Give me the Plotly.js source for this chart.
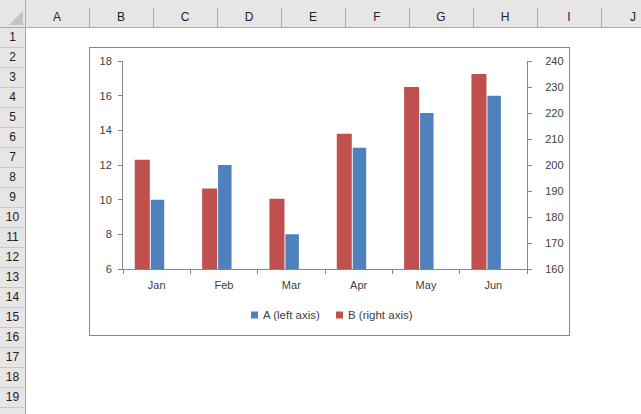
<!DOCTYPE html>
<html>
<head>
<meta charset="utf-8">
<script src="https://cdn.plot.ly/plotly-3.0.1.min.js"></script>
<style>
html,body{margin:0;padding:0;width:641px;height:414px;overflow:hidden;background:#fff;font-family:"Liberation Sans",Arial,sans-serif;}
#sheet{position:absolute;left:0;top:0;width:641px;height:414px;}
.band{position:absolute;background:#e6e6e6;}
.vline{position:absolute;width:1px;background:#ababab;}
.hline{position:absolute;height:1px;background:#ababab;}
.lbl{position:absolute;font-size:12px;color:#222;text-align:center;line-height:20px;height:20px;}
#chartbox{position:absolute;left:89px;top:47px;width:479px;height:287px;border:1px solid #868686;background:#fff;}
#chart{width:479px;height:287px;}
</style>
</head>
<body>
<div id="sheet"></div>
<div id="chartbox"><div id="chart"></div></div>
<script>
// ---- data ----
const months = ['Jan','Feb','Mar','Apr','May','Jun'];
const seriesA = [10, 12, 8, 13, 15, 16];          // left axis
const seriesB = [202, 191, 187, 212, 230, 235];   // right axis
const nameA = 'A (left axis)';
const nameB = 'B (right axis)';
const colLetters = ['A','B','C','D','E','F','G','H','I','J'];
const rowNumbers = [1,2,3,4,5,6,7,8,9,10,11,12,13,14,15,16,17,18,19];

// ---- spreadsheet frame ----
const sheet = document.getElementById('sheet');
function add(cls, css, text){
  const d = document.createElement('div');
  d.className = cls;
  Object.assign(d.style, css);
  if (text !== undefined) d.textContent = text;
  sheet.appendChild(d);
}
add('band', {left:'0px', top:'0px', width:'641px', height:'27px'});
add('band', {left:'0px', top:'0px', width:'25px', height:'414px'});
add('hline', {left:'0px', top:'27px', width:'641px'});
add('vline', {left:'25px', top:'0px', height:'414px'});
const tri = document.createElement('div');
Object.assign(tri.style, {position:'absolute', left:'9px', top:'11px', width:'0', height:'0',
  borderLeft:'14px solid transparent', borderBottom:'14px solid #c4c4c4'});
sheet.appendChild(tri);
colLetters.forEach((c, i) => {
  const x0 = 25 + 64 * i;
  add('vline', {left:(x0 + 64) + 'px', top:'8px', height:'19px'});
  add('lbl', {left:x0 + 'px', top:'7px', width:'64px'}, c);
});
rowNumbers.forEach((r, i) => {
  const y0 = 27 + 20 * i;
  add('hline', {left:'0px', top:(y0 + 20) + 'px', width:'25px', background:'#c8c8c8'});
  add('lbl', {left:'0px', top:y0 + 'px', width:'25px'}, String(r));
});

// ---- chart ----
const axisColor = '#868686';
const colorA = '#4F81BD', colorB = '#C0504D';
const traces = [
  {type:'bar', name:nameA, x:months, y:seriesA, yaxis:'y',
   offset:-0.088, width:0.2, marker:{color:colorA}},
  {type:'bar', name:nameB, x:months, y:seriesB, yaxis:'y2',
   offset:-0.325, width:0.223, marker:{color:colorB}}
];
const yCommon = {showline:true, linecolor:axisColor, linewidth:1, ticks:'outside',
  ticklen:4, tickcolor:axisColor, tickwidth:1, showgrid:false, zeroline:false,
  fixedrange:true, automargin:false};

// plot area: 404 x 208 px; helpers convert chart-local pixel offsets to paper coords
const PW = 404, PH = 208;
const px = v => v / PW;          // pixels right of plot left edge
const py = v => -v / PH;         // pixels below plot bottom edge
const legendItems = [
  {name:nameA, color:colorA, sq:128, tx:138},
  {name:nameB, color:colorB, sq:213, tx:223}
];
const shapes = legendItems.map(it => ({type:'rect', xref:'paper', yref:'paper',
  x0:px(it.sq), x1:px(it.sq + 7), y0:py(49.5), y1:py(42.5),
  fillcolor:it.color, line:{width:0}}));
const annotations = legendItems.map(it => ({xref:'paper', yref:'paper',
  x:px(it.tx), y:py(46), xanchor:'left', yanchor:'middle', showarrow:false,
  text:it.name, font:{size:11.5, color:'#404040'}}));

const layout = {
  width:479, height:287,
  margin:{l:33, r:42, t:13, b:66, pad:0, autoexpand:false},
  paper_bgcolor:'#ffffff', plot_bgcolor:'#ffffff',
  font:{family:'"Liberation Sans", Arial, sans-serif', size:11, color:'#404040'},
  barmode:'overlay',
  showlegend:false,
  xaxis:{type:'category', categoryorder:'array', categoryarray:months,
    showline:true, linecolor:axisColor, linewidth:1, ticks:'outside', tickson:'boundaries',
    ticklen:4, tickcolor:axisColor, tickwidth:1, showgrid:false, fixedrange:true,
    ticklabelstandoff:6, automargin:false},
  yaxis:Object.assign({}, yCommon, {range:[6,18], tick0:6, dtick:2, side:'left',
    ticklabelstandoff:4}),
  yaxis2:Object.assign({}, yCommon, {range:[160,240], tick0:160, dtick:10,
    side:'right', overlaying:'y', ticklabelstandoff:11}),
  shapes:shapes,
  annotations:annotations
};
Plotly.newPlot('chart', traces, layout, {displayModeBar:false, staticPlot:true});
</script>
</body>
</html>
